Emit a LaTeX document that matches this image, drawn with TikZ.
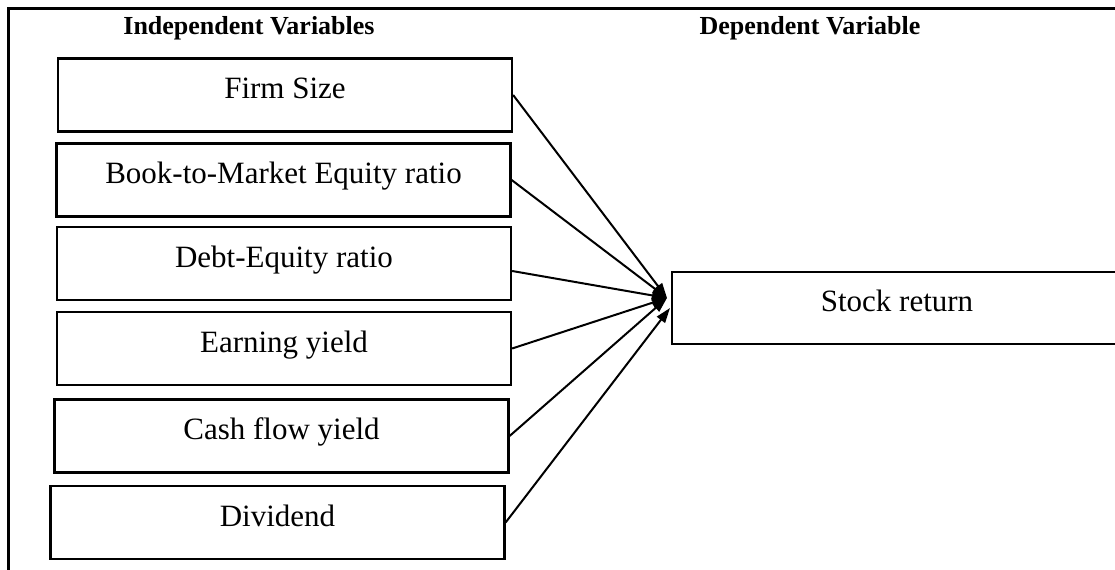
\documentclass[tikz,border=0pt]{standalone}
\usepackage{fontspec}
\setmainfont{Liberation Serif}
\usetikzlibrary{arrows.meta}

\begin{document}
\begin{tikzpicture}[x=0.4pt,y=-0.4pt]
\tikzstyle{var}=[rectangle,draw=black,line width=0.9pt,minimum width=181.6pt,minimum height=29.2pt,inner sep=0pt,text height=9pt,text depth=5.8pt,font=\fontsize{12.4pt}{15pt}\selectfont]
\tikzstyle{head}=[anchor=base,inner sep=0pt,font=\fontsize{10.4pt}{12pt}\selectfont\bfseries]
\tikzstyle{arr}=[-{Triangle[length=6pt,width=4pt]},line width=0.8pt]
\useasboundingbox (0,0) rectangle (1115,570);
\draw [line width=1pt] (1115,8.5) -- (8.5,8.5) -- (8.5,570);
\node [head] (IVh) at (249,35) {Independent Variables};
\node [head] (DVh) at (810,35) {Dependent Variable};
\node [var] (FS) at (285,95) {Firm Size};
\node [var] (BM) at (283.5,180) {Book-to-Market Equity ratio};
\node [var] (DE) at (284,263.5) {Debt-Equity ratio};
\node [var] (EY) at (284,348.5) {Earning yield};
\node [var] (CF) at (281.5,436) {Cash flow yield};
\node [var] (DV) at (277.5,522.5) {Dividend};
\node [var,minimum width=180pt,minimum height=28.8pt] (SR) at (897,308) {Stock return};
\coordinate (hub) at (667,298);
\coordinate (hubB) at (670,308);
\draw [arr] (FS.east) -- (hub);
\draw [arr] (BM.east) -- (hub);
\draw [arr] ([yshift=-3pt]DE.east) -- (hub);
\draw [arr] (EY.east) -- (hub);
\draw [arr] (CF.east) -- (hub);
\draw [arr] (DV.east) -- (hubB);
\end{tikzpicture}
\end{document}
